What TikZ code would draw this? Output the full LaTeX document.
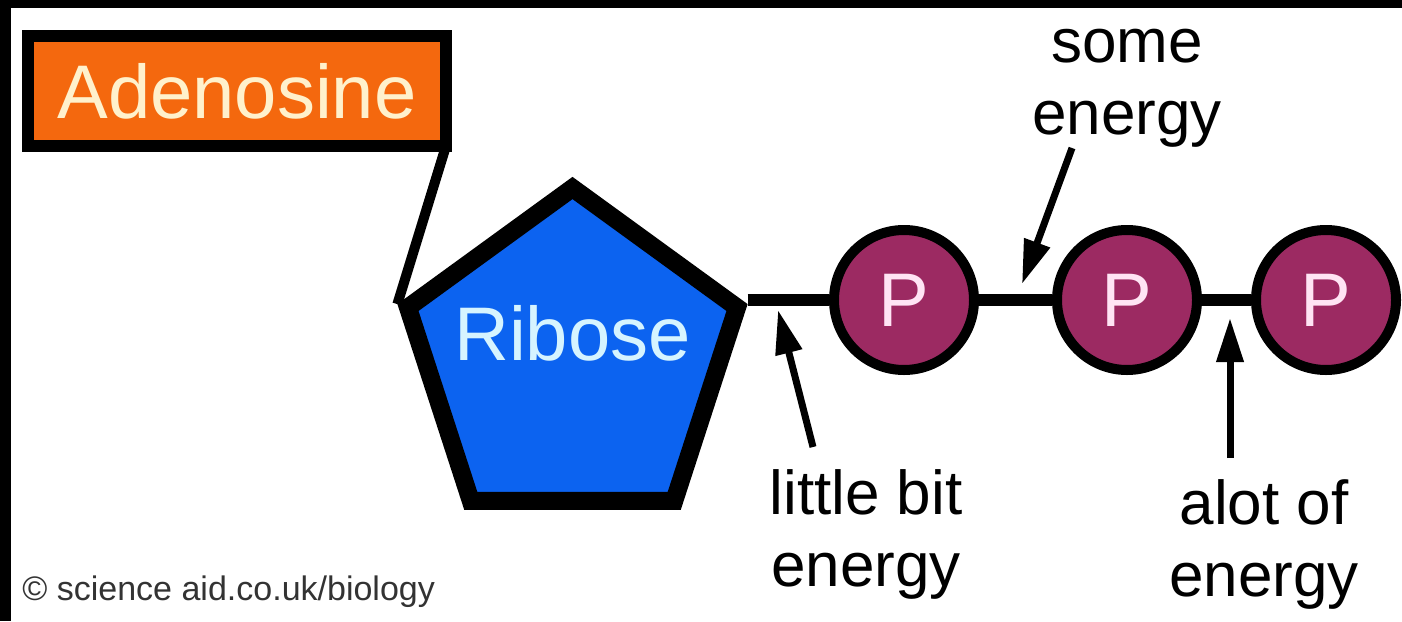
\documentclass[tikz,border=0pt]{standalone}
\usepackage{fontspec}
\setmainfont{Liberation Sans}
\usepackage{tikz}
\usepackage{xcolor}
\usetikzlibrary{shapes.geometric, arrows.meta, positioning, calc}
\definecolor{AdenOrange}{HTML}{F4680E}
\definecolor{AdenCream}{HTML}{FFF1CC}
\definecolor{RiboseBlue}{HTML}{0C63F0}
\definecolor{RiboseIce}{HTML}{D6F4FF}
\definecolor{PhosPlum}{HTML}{9C2A62}
\definecolor{PhosPink}{HTML}{FFE4F4}
\definecolor{CreditGrey}{HTML}{333333}

\tikzset{
    bigtext/.style={font=\fontsize{38}{40}\selectfont},
    phosphate/.style={circle, draw=black, line width=5pt, fill=PhosPlum,
                      minimum size=70pt, inner sep=0pt, text=PhosPink, bigtext},
    bond/.style={line width=6pt},
    energylabel/.style={align=center, inner sep=0pt, font=\fontsize{31}{36}\selectfont},
    energyarrow/.style={line width=3.5pt, -{Triangle[length=22pt, width=13pt]}},
}

\begin{document}
\begin{tikzpicture}[x=0.5pt, y=-0.5pt]
    \useasboundingbox (0,0) rectangle (1402,621);
    \fill[white] (0,0) rectangle (1402,621);
    \fill[black] (0,0) rectangle (1402,8);
    \fill[black] (0,0) rectangle (11,621);

    \node[draw=black, line width=6pt, fill=AdenOrange, minimum width=209pt,
          minimum height=55pt, inner sep=0pt, text=AdenCream, bigtext] (adenosine) at (237,91) {Adenosine};

    \node[regular polygon, regular polygon sides=5, draw=black, line width=9pt,
          fill=RiboseBlue, minimum size=173pt, inner sep=0pt] (ribose) at (572.5,361) {};
    \node[bigtext, text=RiboseIce, anchor=base, inner sep=0pt] (ribosetext) at (572.5,360) {Ribose};

    \draw[line width=5pt] ([shift={(-3pt,3pt)}]adenosine.south east) -- (ribose.corner 2);

    \node[phosphate] (p1) at (904,300) {P};
    \node[phosphate] (p2) at (1127,300) {P};
    \node[phosphate] (p3) at (1326,300) {P};

    \draw[bond] (ribose.corner 5 |- p1) -- (p1);
    \draw[bond] (p1) -- (p2);
    \draw[bond] (p2) -- (p3);

    % energy labels and their arrows
    \node[energylabel] (someenergy) at (1127,88) {some\\energy};
    \node[energylabel] (littlebit) at (866,534) {little bit\\energy};
    \node[energylabel] (alotof) at (1264,544) {alot of\\energy};

    \coordinate (sometail) at (1072,148);
    \coordinate (sometip) at (1022,284);
    \coordinate (littletail) at (813,447);
    \coordinate (littletip) at (778,310);
    \coordinate (alottail) at (1230,458);
    \coordinate (alottip) at (1230,318);

    \draw[energyarrow] (sometail) -- (sometip);
    \draw[energyarrow] (littletail) -- (littletip);
    \draw[energyarrow] (alottail) -- (alottip);

    \node[anchor=base west, inner sep=0pt, text=CreditGrey,
          font=\fontsize{17}{20}\selectfont] (credit) at (22,600) {© science aid.co.uk/biology};
\end{tikzpicture}
\end{document}
